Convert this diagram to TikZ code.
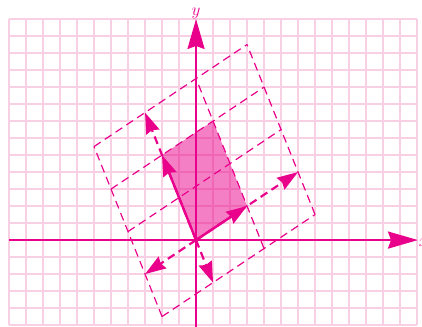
\documentclass[tikz,border=0pt]{standalone}
\usepackage{tikz}
\usetikzlibrary{arrows.meta,calc}
\definecolor{mag}{RGB}{233,0,139}
\definecolor{gridpink}{RGB}{249,208,227}

\begin{document}
\begin{tikzpicture}[x=0.6cm,y=0.6cm,
    axis/.style={mag,line width=2.6pt,-{Stealth[length=30pt,width=17pt,inset=3pt]}},
    vecarrow/.style={mag,line width=2.4pt,-{Stealth[length=21pt,width=14pt,inset=2pt]}},
    dline/.style={mag,line width=1.2pt,dash pattern=on 8pt off 5pt},
    dvec/.style={dline,line width=2.2pt,-{Stealth[length=21pt,width=14pt,inset=2pt]}}]
  \def\ux{3}
  \def\uy{2}
  \def\vx{-2}
  \def\vy{5}
  \clip (-11.53,-5.06) rectangle (13.29,14.12);
  \draw[gridpink,line width=1.7pt,step=1] (-11,-5) grid (13,13);
  \coordinate (O) at (0,0);
  \coordinate (u) at (\ux,\uy);
  \coordinate (v) at (\vx,\vy);
  \coordinate (uv) at ($(u)+(v)$);
  \coordinate (u2) at ($2*(u)$);
  \coordinate (um) at ($-1*(u)$);
  \coordinate (v15) at ($1.5*(v)$);
  \coordinate (vm) at ($-0.5*(v)$);
  \fill[mag,fill opacity=0.5] (O) -- (u) -- (uv) -- (v) -- cycle;
  % transformed grid
  \foreach \a in {-1,1,2}{
    \draw[dline] ({\a*\ux-0.5*\vx},{\a*\uy-0.5*\vy}) -- ({\a*\ux+1.5*\vx},{\a*\uy+1.5*\vy});
  }
  \foreach \b in {-0.5,0.5,1,1.5}{
    \draw[dline] ({-\ux+\b*\vx},{-\uy+\b*\vy}) -- ({2*\ux+\b*\vx},{2*\uy+\b*\vy});
  }
  \draw[axis] (-11,0) -- (13.05,0);
  \draw[axis] (0,-5.2) -- (0,13);
  \node[anchor=base west,inner sep=0pt,text=mag,font=\fontsize{18}{18}\selectfont] (xlbl) at (13.1,-0.35) {$x$};
  \node[above,inner sep=0pt,text=mag,font=\fontsize{18}{18}\selectfont] (ylbl) at (0,13) {$y$};
  \draw[dvec] (O) -- (u2);
  \draw[dvec] (O) -- (um);
  \draw[dvec] (O) -- (v15);
  \draw[dvec] (O) -- (vm);
  \draw[vecarrow] (O) -- (u);
  \draw[vecarrow] (O) -- (v);
\end{tikzpicture}
\end{document}
